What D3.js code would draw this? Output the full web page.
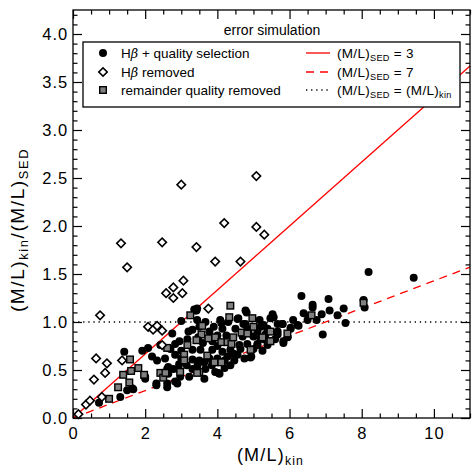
<!DOCTYPE html>
<html>
<head>
<meta charset="utf-8">
<script src="https://cdn.jsdelivr.net/npm/d3@7"></script>
<style>
body{margin:0;background:#fff;}
text{font-family:"Liberation Sans",Arial,sans-serif;fill:#000;}
</style>
</head>
<body>
<div id="canvas"></div>
<script>
// H-beta + quality selection (filled circles)
var selected = [
[0.72,0.16],[1.31,0.22],[1.5,0.29],[1.64,0.31],[1.67,0.30],[2.0,0.43],[2.0,0.41],[1.42,0.69],[1.92,0.70],[2.08,0.73],
[2.19,0.64],[2.33,0.60],[2.31,0.36],[2.31,0.34],[2.61,0.32],[2.64,0.53],[2.64,0.46],[2.89,0.36],[2.61,0.51],
[3.42,1.12],[3.39,1.12],[3.44,1.14],[3.0,1.01],[4.11,0.99],[4.58,1.04],[4.81,1.10],[4.78,1.12],[2.75,0.88],[2.78,0.51],
[2.97,0.43],[2.61,0.36],[4.03,0.47],[4.36,0.55],[2.42,0.76],
[3.36,1.13],[3.44,1.02],[4.08,1.02],[4.78,0.98],[5.17,1.02],[5.53,1.05],[5.67,0.98],[3.67,1.00],[3.31,0.92],[3.78,0.90],
[4.14,0.93],[4.50,0.93],[4.83,0.93],[5.11,0.90],[5.39,0.92],[5.67,0.87],[2.83,0.77],[2.83,0.66],[2.94,0.56],[2.94,0.50],
[3.31,0.71],[3.31,0.61],[3.31,0.51],[3.53,0.71],[3.64,0.58],[3.86,0.71],[4.14,0.69],[4.36,0.71],[4.61,0.76],[4.83,0.77],
[5.11,0.77],[5.39,0.76],[4.56,0.66],[4.75,0.62],[4.28,0.64],[3.67,0.51],[3.94,0.48],[4.06,0.46],[3.22,0.43],[2.83,0.38],
[3.64,0.41],[3.17,0.82],[3.0,0.70],[3.0,0.62],[3.47,0.84],[3.86,0.80],[4.0,0.62],[4.2,0.60],[3.78,0.62],[3.5,0.60],
[4.47,0.60],[4.0,0.86],[4.25,0.86],
[3.2,0.90],[3.5,0.95],[3.9,0.95],[4.3,1.00],[3.6,0.78],[4.0,0.75],[4.45,0.67],[4.7,0.85],[5.0,0.85],[5.0,0.72],
[5.25,0.70],[3.85,0.55],[4.2,0.52],[3.45,0.55],[3.15,0.55],[2.95,0.80],[2.7,0.72],[2.55,0.62],[5.6,0.82],[5.95,0.84],
[6.1,1.02],[6.75,1.02],[5.2,0.95],
[6.33,1.27],[7.08,1.24],[6.64,1.18],[6.64,1.15],[6.39,1.09],[6.89,1.08],[7.11,1.12],[7.33,1.07],[7.50,1.14],[7.55,0.99],
[6.92,0.87],[5.56,1.05],[5.81,0.98],[6.03,0.94],[6.25,0.96],[6.50,1.02],[5.83,0.78],[5.67,0.90],[5.39,0.93],[5.33,0.87],
[4.94,0.64],[5.19,0.83],[5.11,0.76],
[8.19,1.52],[9.44,1.46],[8.05,1.23],[8.08,1.15],
[4.56,1.03],[4.72,0.98],[5.28,0.97],[5.47,1.04],[5.80,0.98],[5.28,0.82],[5.83,0.80],[4.92,0.63],[4.64,0.72],[5.53,1.08],
[6.22,0.97],[6.53,1.06],[6.03,0.93]
];

// H-beta removed (open diamonds)
var hbRemoved = [
[0.15,0.04],[0.36,0.14],[0.47,0.18],[0.8,0.22],[0.58,0.40],[0.89,0.47],[0.64,0.62],[0.94,0.57],[1.36,0.60],[0.75,1.07],
[2.08,0.95],[2.22,0.92],[2.33,0.96],[2.47,0.91],[2.47,0.76],[1.33,1.82],[1.5,1.57],[2.47,1.83],[2.58,1.30],[2.78,1.36],
[2.78,1.25],[3.03,1.30],[3.06,1.43],[3.0,2.43],[3.42,1.78],[3.94,1.63],[4.19,2.03],[4.64,1.63],[3.75,1.14],[5.08,2.52],
[5.08,1.99],[5.3,1.91]
];

// remainder quality removed (grey squares)
var qualityRemoved = [
[1.58,0.61],[1.61,0.49],[1.81,0.52],[1.97,0.45],[1.39,0.45],[1.56,0.37],[1.25,0.32],[1.0,0.2],[2.42,0.47],[2.5,0.42],
[2.61,0.73],[4.36,1.17],[4.33,1.05],[3.25,1.07],[3.58,0.96],[4.97,1.04],[3.56,0.87],[3.42,0.81],[3.75,0.83],[3.94,0.84],
[4.11,0.79],[4.28,0.79],[4.44,0.84],[4.67,0.89],[4.86,0.89],[5.25,0.84],[5.44,0.80],[3.17,0.76],[3.08,0.66],[3.08,0.60],
[3.72,0.65],[3.92,0.58],[4.11,0.58],[4.92,0.71],[3.5,0.48],[2.97,0.48],[2.56,0.47],[3.44,0.47],[4.39,0.77],[4.83,0.88],
[5.0,0.95],[5.47,0.90],[5.47,0.80],[5.94,0.88],[6.61,1.07],[8.05,1.20]
];

var mlSed = [3,7];
var xTicks = [0,2,4,6,8,10];
var yTicks = [0,0.5,1,1.5,2,2.5,3,3.5,4];
var xDomain = [0,11];
var yDomain = [0,4.25];

var width = 472, height = 472;
var pLeft = 73, pRight = 470, pTop = 10, pBottom = 418;

var x = d3.scaleLinear().domain(xDomain).range([pLeft,pRight]);
var y = d3.scaleLinear().domain(yDomain).range([pBottom,pTop]);

var svg = d3.select("#canvas").append("svg")
	.attr("width",width)
	.attr("height",height);

// subscript helper
var writeParts = function(t,parts,size){
	parts.forEach(function(p){
		var s = t.append("tspan").text(p[0]);
		if(p[1]=="sub"){
			s.attr("font-size",size*0.68).attr("dy",size*0.22);
		}else if(p[1]=="back"){
			s.attr("dy",-size*0.22);
		}else if(p[1]=="it"){
			s.attr("font-style","italic").attr("font-family","DejaVu Serif").attr("font-size",size*0.95);
		}
	});
};

// reference lines
var plot = svg.append("g");
var line = d3.line().x(function(d){return x(d[0]);}).y(function(d){return y(d[1]);});

plot.append("path")
	.datum(xDomain.map(function(v){return [v,1];}))
	.attr("d",line)
	.attr("fill","none").attr("stroke","#000").attr("stroke-width",1.3)
	.attr("stroke-dasharray","1.3,3.8");

plot.selectAll(".ml").data(mlSed).enter().append("path")
	.attr("d",function(m){return line(xDomain.map(function(v){return [v,v/m];}));})
	.attr("fill","none").attr("stroke","#f00").attr("stroke-width",1.3)
	.attr("stroke-dasharray",function(m,i){return i==0?null:"8,6";});

// points
var rDot = 4;
plot.selectAll(".sel").data(selected).enter().append("circle")
	.attr("cx",function(d){return x(d[0]);})
	.attr("cy",function(d){return y(d[1]);})
	.attr("r",rDot).attr("fill","#000");

var sq = 6.6;
plot.selectAll(".qr").data(qualityRemoved).enter().append("rect")
	.attr("x",function(d){return x(d[0])-sq/2;})
	.attr("y",function(d){return y(d[1])-sq/2;})
	.attr("width",sq).attr("height",sq)
	.attr("fill","#808080").attr("stroke","#000").attr("stroke-width",1.4);

var diamond = d3.symbol().type(d3.symbolSquare).size(36);
plot.selectAll(".hb").data(hbRemoved).enter().append("path")
	.attr("d",diamond)
	.attr("transform",function(d){return "translate("+x(d[0])+","+y(d[1])+") rotate(45)";})
	.attr("fill","#fff").attr("stroke","#000").attr("stroke-width",1.6);

// axes with inward ticks on all four sides
var minorX = d3.range(0,11.01,0.5).filter(function(v){return v%2!=0;});
var minorY = d3.range(0,43).map(function(i){return i/10;}).filter(function(v){return Math.round(v*10)%5!=0;});

var fmtY = d3.format(".1f");
var axes = [
	[d3.axisBottom(x).tickValues(xTicks).tickFormat(d3.format("d")),"translate(0,"+pBottom+")",false,9],
	[d3.axisTop(x).tickValues(xTicks).tickFormat(""),"translate(0,"+pTop+")",false,5],
	[d3.axisLeft(y).tickValues(yTicks).tickFormat(fmtY),"translate("+pLeft+",0)",false,5],
	[d3.axisRight(y).tickValues(yTicks).tickFormat(""),"translate("+pRight+",0)",false,5],
	[d3.axisBottom(x).tickValues(minorX).tickFormat(""),"translate(0,"+pBottom+")",true,5],
	[d3.axisTop(x).tickValues(minorX).tickFormat(""),"translate(0,"+pTop+")",true,5],
	[d3.axisLeft(y).tickValues(minorY).tickFormat(""),"translate("+pLeft+",0)",true,5],
	[d3.axisRight(y).tickValues(minorY).tickFormat(""),"translate("+pRight+",0)",true,5]
];
axes.forEach(function(a){
	var ax = a[0].tickSize(a[2]?-4.5:-9).tickPadding(a[3]);
	var g = svg.append("g").attr("transform",a[1]).call(ax);
	g.select(".domain").remove();
	g.selectAll("line").attr("stroke","#000").attr("stroke-width",1.2);
	g.selectAll("text").attr("font-size",16.5).attr("font-family","Liberation Sans, Arial, sans-serif").attr("letter-spacing",0.9);
});

svg.append("rect")
	.attr("x",pLeft).attr("y",pTop)
	.attr("width",pRight-pLeft).attr("height",pBottom-pTop)
	.attr("fill","none").attr("stroke","#000").attr("stroke-width",1.3);

// axis titles
var xt = svg.append("text").attr("x",(pLeft+pRight)/2-1).attr("y",461)
	.attr("text-anchor","middle").attr("font-size",18).attr("letter-spacing",1.2);
writeParts(xt,[["(M/L)"],["kin","sub"]],18);

var yt = svg.append("text").attr("transform","translate(24,230) rotate(-90)")
	.attr("text-anchor","middle").attr("font-size",19).attr("letter-spacing",1.6);
writeParts(yt,[["(M/L)"],["kin","sub"],["/","back"],["(M/L)"],["SED","sub"]],19);

// legend
svg.append("text").attr("x",272).attr("y",35).attr("text-anchor","middle")
	.attr("font-size",14).text("error simulation");

svg.append("rect").attr("x",83).attr("y",42).attr("width",377).attr("height",65)
	.attr("fill","#fff").attr("stroke","#000").attr("stroke-width",1.3);

var rowY = [53,72,90];
var lg = svg.append("g");
lg.append("circle").attr("cx",103).attr("cy",rowY[0]).attr("r",rDot).attr("fill","#000");
lg.append("path").attr("d",diamond).attr("transform","translate(103,"+rowY[1]+") rotate(45)")
	.attr("fill","#fff").attr("stroke","#000").attr("stroke-width",1.6);
lg.append("rect").attr("x",103-sq/2).attr("y",rowY[2]-sq/2).attr("width",sq).attr("height",sq)
	.attr("fill","#808080").attr("stroke","#000").attr("stroke-width",1.4);

var leftLabels = [
	[["H"],["\u03b2","it"],[" + quality selection"]],
	[["H"],["\u03b2","it"],[" removed"]],
	[["remainder quality removed"]]
];
leftLabels.forEach(function(p,i){
	var t = lg.append("text").attr("x",121).attr("y",rowY[i]+5).attr("font-size",13.5);
	writeParts(t,p,13.5);
});

var lineStyles = [["#f00",null],["#f00","8,6"],["#000","1.3,3.8"]];
var rightLabels = [
	[["(M/L)"],["SED","sub"],[" = "+mlSed[0],"back"]],
	[["(M/L)"],["SED","sub"],[" = "+mlSed[1],"back"]],
	[["(M/L)"],["SED","sub"],[" = (M/L)","back"],["kin","sub"]]
];
rightLabels.forEach(function(p,i){
	lg.append("line").attr("x1",306).attr("x2",330).attr("y1",rowY[i]).attr("y2",rowY[i])
		.attr("stroke",lineStyles[i][0]).attr("stroke-width",1.3)
		.attr("stroke-dasharray",lineStyles[i][1]);
	var t = lg.append("text").attr("x",337).attr("y",rowY[i]+5).attr("font-size",13.5).attr("letter-spacing",0.3);
	writeParts(t,p,13.5);
});
</script>
</body>
</html>
